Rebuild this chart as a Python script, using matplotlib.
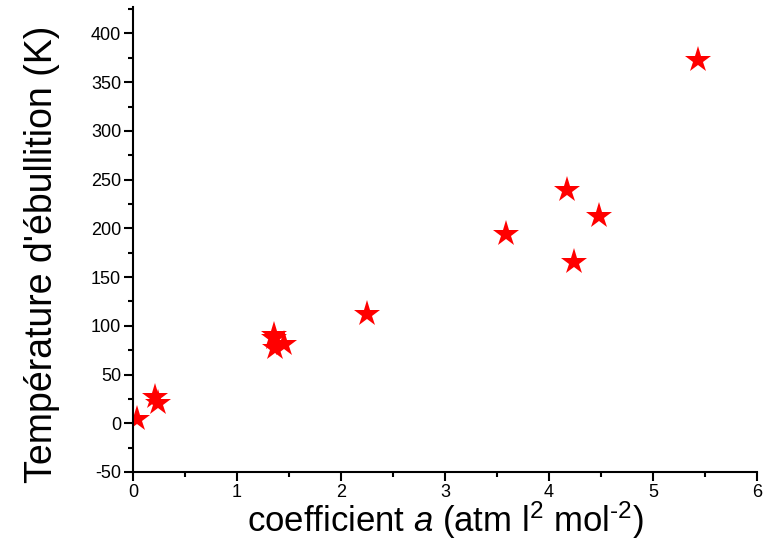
import matplotlib.pyplot as plt
from matplotlib.ticker import MultipleLocator

plt.rcParams['font.family'] = ['Liberation Sans', 'DejaVu Sans']
plt.rcParams['mathtext.fontset'] = 'custom'
plt.rcParams['mathtext.rm'] = 'Liberation Sans'
plt.rcParams['mathtext.it'] = 'Liberation Sans:italic'
plt.rcParams['axes.unicode_minus'] = False

# van der Waals coefficient a (atm l^2 mol^-2) and boiling point (K)
gases = ['He', 'Ne', 'H2', 'Ar', 'O2', 'N2', 'CO', 'CH4', 'CO2', 'NH3', 'Xe', 'H2S', 'H2O']
coef_a = [0.034, 0.21, 0.244, 1.355, 1.36, 1.37, 1.45, 2.25, 3.59, 4.17, 4.24, 4.48, 5.43]
t_boil = [4.2, 27.1, 20.3, 87.3, 90.2, 77.4, 81.6, 111.7, 194.7, 239.8, 165.0, 212.8, 373.2]

fig = plt.figure(figsize=(7.76, 5.48), dpi=100)
ax = fig.add_axes([0.1714, 0.1387, 0.8041, 0.8483])

ax.plot(coef_a, t_boil, linestyle='none', marker='*', markersize=20,
        color='#ff0000', markeredgewidth=0)

ax.set_xlim(0, 6)
ax.set_ylim(-50, 427)
ax.xaxis.set_major_locator(MultipleLocator(1))
ax.xaxis.set_minor_locator(MultipleLocator(0.5))
ax.yaxis.set_major_locator(MultipleLocator(50))
ax.yaxis.set_minor_locator(MultipleLocator(25))

ax.spines['top'].set_visible(False)
ax.spines['right'].set_visible(False)
for side in ('left', 'bottom'):
    ax.spines[side].set_linewidth(1.5)

ax.tick_params(which='major', direction='out', length=6.5, width=1.5,
               labelsize=13, pad=2)
ax.tick_params(which='minor', direction='out', length=3.5, width=1.5)

ax.set_xlabel(r'coefficient $a$ (atm l$^{2}$ mol$^{\text{-}2}$)', fontsize=25, labelpad=-1)
ax.set_ylabel("Température d'ébullition (K)", fontsize=27)
ax.yaxis.set_label_coords(-0.117, 0.469)

fig.savefig('out.png', dpi=100)
